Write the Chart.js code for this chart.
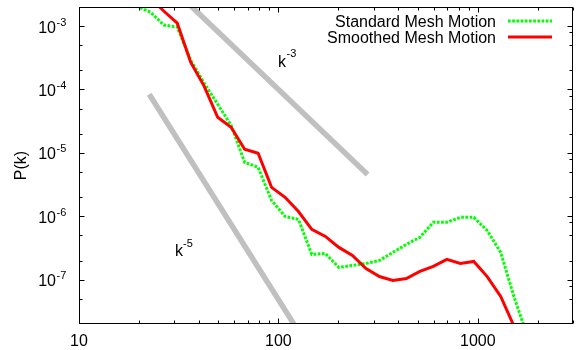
<!DOCTYPE html>
<html>
<head>
<meta charset="utf-8">
<script src="https://cdn.jsdelivr.net/npm/chart.js@4.4.0/dist/chart.umd.min.js"></script>
<style>
html,body{margin:0;padding:0;background:#ffffff;}
#wrap{width:581px;height:350px;}
</style>
</head>
<body>
<div id="wrap"><canvas id="c" width="581" height="350"></canvas></div>
<script>
// ---- data ----
const kBins = [16.7, 19.5, 22.8, 26.6, 31.1, 36.3, 42.4, 49.6, 57.9, 67.7, 79.1, 92.4, 108, 126, 147, 172, 201, 235, 275, 321, 375, 438, 512, 598, 699, 817, 954, 1114, 1302, 1521, 1776];
const standardMesh = [3.09e-3, 2.07e-3, 1.66e-3, 1.04e-3, 9.65e-4, 2.90e-4, 1.26e-4, 5.86e-5, 2.73e-5, 7.10e-6, 5.92e-6, 1.78e-6, 9.96e-7, 8.93e-7, 2.50e-7, 2.59e-7, 1.56e-7, 1.68e-7, 1.80e-7, 2.01e-7, 2.69e-7, 3.60e-7, 4.65e-7, 8.02e-7, 8.02e-7, 9.62e-7, 9.62e-7, 5.98e-7, 2.69e-7, 5.24e-8, 1.27e-8];
const smoothedMesh = [null, null, 2.77e-3, 1.73e-3, 1.11e-3, 2.70e-4, 1.13e-4, 3.65e-5, 2.54e-5, 1.14e-5, 9.86e-6, 2.86e-6, 1.99e-6, 1.19e-6, 6.21e-7, 4.81e-7, 3.23e-7, 2.41e-7, 1.50e-7, 1.12e-7, 9.71e-8, 1.04e-7, 1.35e-7, 1.62e-7, 2.09e-7, 1.80e-7, 1.94e-7, 1.12e-7, 5.43e-8, 1.82e-8, null];
const slope3K = [35.5, 280];
const slope3P = [2.24e-3, 4.55e-6];
const slope5K = [22.5, 120];
const slope5P = [8.4e-5, 1.95e-8];
const seriesNames = ['Standard Mesh Motion', 'Smoothed Mesh Motion'];
const xTickValues = [10, 100, 1000];
const xTickLabels = ['10', '100', '1000'];
const yTickValues = [1e-3, 1e-4, 1e-5, 1e-6, 1e-7];
const yTickBase = '10';
const yTickExps = ['-3', '-4', '-5', '-6', '-7'];
const yAxisTitle = 'P(k)';
const slopeLabels = [{base: 'k', exp: '-3'}, {base: 'k', exp: '-5'}];

// ---- rendering ----
const FONT = '"Liberation Sans", Arial, Helvetica, sans-serif';
const GREEN = '#00ff00', RED = '#ff0000', GREY = '#c0c0c0';
const DOT = [2.7, 1.5];

function pts(xs, ys) { return xs.map((k, i) => ({x: k, y: ys[i]})); }

const framePlugin = {
  id: 'framePlugin',
  afterDatasetsDraw(chart) {
    const ctx = chart.ctx, a = chart.chartArea, xs = chart.scales.x, ys = chart.scales.y;
    const L = a.left + 0.5, R = a.right - 0.5, T = a.top + 0.5, B = a.bottom - 0.5;
    ctx.save();
    ctx.strokeStyle = '#000'; ctx.lineWidth = 1;
    ctx.strokeRect(L, T, R - L, B - T);
    const MAJ = 5, MIN = 3;
    ctx.beginPath();
    // x ticks (bottom and mirrored top)
    for (let d = 10; d <= 1000; d *= 10) {
      for (let m = 1; m <= 9; m++) {
        const v = d * m;
        if (v < xs.min || v > xs.max) continue;
        const px = Math.round(xs.getPixelForValue(v)) + 0.5;
        const len = m === 1 ? MAJ : MIN;
        ctx.moveTo(px, B); ctx.lineTo(px, B - len);
        ctx.moveTo(px, T); ctx.lineTo(px, T + len);
      }
    }
    // y ticks (left: 1,2,5 ; right: 1,2,5,8)
    for (let e = -8; e <= -3; e++) {
      const d = Math.pow(10, e);
      [1, 2, 5, 8].forEach(m => {
        const v = d * m;
        if (v <= ys.min * 1.001 || v >= ys.max * 0.999) return;
        const py = Math.round(ys.getPixelForValue(v)) + 0.5;
        const len = m === 1 ? MAJ : MIN;
        if (m !== 8) { ctx.moveTo(L, py); ctx.lineTo(L + len, py); }
        ctx.moveTo(R, py); ctx.lineTo(R - len, py);
      });
    }
    ctx.stroke();

    // x tick labels
    ctx.fillStyle = '#000';
    ctx.font = '16px ' + FONT;
    ctx.textAlign = 'center'; ctx.textBaseline = 'alphabetic';
    xTickValues.forEach((v, i) => {
      ctx.fillText(xTickLabels[i], xs.getPixelForValue(v), 346);
    });
    // y tick labels with superscript exponents
    yTickValues.forEach((v, i) => {
      const py = ys.getPixelForValue(v);
      ctx.font = '16px ' + FONT; ctx.textAlign = 'right';
      ctx.fillText(yTickBase, 56, py + 6.5);
      ctx.font = '11px ' + FONT; ctx.textAlign = 'left';
      ctx.fillText(yTickExps[i], 56.5, py - 0.5);
    });
    // y axis title
    ctx.save();
    ctx.translate(22, (a.top + a.bottom) / 2);
    ctx.rotate(-Math.PI / 2);
    ctx.font = '16px ' + FONT; ctx.textAlign = 'center'; ctx.textBaseline = 'middle';
    ctx.fillText(yAxisTitle, 0, 0);
    ctx.restore();

    // slope annotations
    const ann = [{x: 278, y: 67, ex: 286.5, ey: 57}, {x: 175, y: 256, ex: 183, ey: 246.5}];
    ann.forEach((p, i) => {
      ctx.textAlign = 'left';
      ctx.font = '16px ' + FONT; ctx.fillText(slopeLabels[i].base, p.x, p.y);
      ctx.font = '11px ' + FONT; ctx.fillText(slopeLabels[i].exp, p.ex, p.ey);
    });

    // legend
    const rows = [{y: 21, color: GREEN, dash: DOT}, {y: 37, color: RED, dash: []}];
    rows.forEach((r, i) => {
      ctx.font = '16px ' + FONT; ctx.textAlign = 'right'; ctx.fillStyle = '#000';
      ctx.fillText(seriesNames[i], 496, r.y + 5.5);
      ctx.beginPath();
      ctx.strokeStyle = r.color; ctx.lineWidth = 3; ctx.lineCap = 'butt';
      ctx.setLineDash(r.dash);
      ctx.moveTo(508, r.y); ctx.lineTo(552, r.y);
      ctx.stroke();
      ctx.setLineDash([]);
    });
    ctx.restore();
  }
};

new Chart(document.getElementById('c'), {
  type: 'line',
  data: {
    datasets: [
      {label: seriesNames[1], data: pts(kBins, smoothedMesh), borderColor: RED, borderWidth: 3, pointRadius: 0, tension: 0, fill: false, spanGaps: false, clip: 0, order: 1},
      {label: seriesNames[0], data: pts(kBins, standardMesh), borderColor: GREEN, borderWidth: 3, borderDash: DOT, borderCapStyle: 'butt', pointRadius: 0, tension: 0, fill: false, clip: 0, order: 2},
      {label: 'k^-3', data: pts(slope3K, slope3P), borderColor: GREY, borderWidth: 5.5, pointRadius: 0, tension: 0, fill: false, clip: 0, order: 3},
      {label: 'k^-5', data: pts(slope5K, slope5P), borderColor: GREY, borderWidth: 5.5, pointRadius: 0, tension: 0, fill: false, clip: 0, order: 4}
    ]
  },
  options: {
    responsive: false,
    animation: false,
    devicePixelRatio: 1,
    layout: {padding: {left: 79, top: 7, right: 8, bottom: 26}},
    scales: {
      x: {type: 'logarithmic', min: 10, max: 3000, display: false},
      y: {type: 'logarithmic', min: 2e-8, max: 2e-3, display: false}
    },
    plugins: {legend: {display: false}, tooltip: {enabled: false}, title: {display: false}}
  },
  plugins: [framePlugin]
});
</script>
</body>
</html>
